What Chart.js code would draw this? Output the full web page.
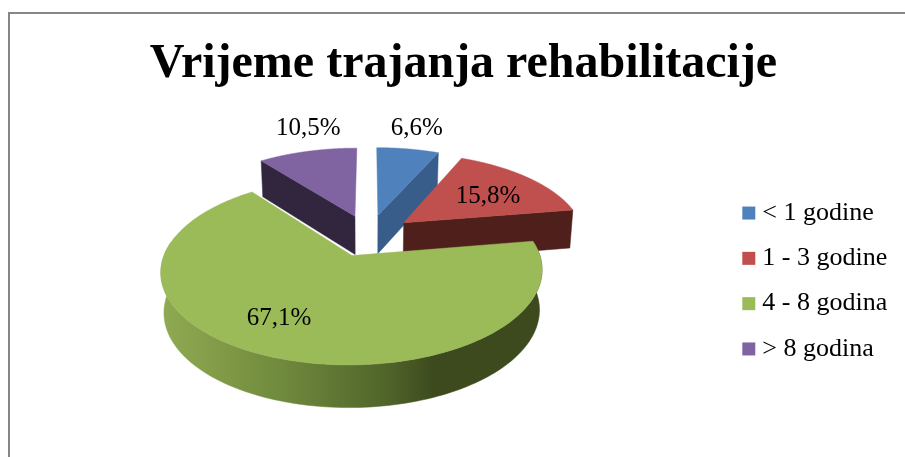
<html>
<head>
<style>
  body { margin:0; overflow:hidden; background:#fff; }
  #frame { position:absolute; left:8px; top:12px; width:1200px; height:800px; border:2px solid #868686; }
  #myChart { position:absolute; left:0; top:0; }
</style>
</head>
<body>
<div id="frame"></div>
<canvas id="myChart" width="905" height="457"></canvas>

<script src="https://cdn.jsdelivr.net/npm/chart.js"></script>

<script>
  const title = 'Vrijeme trajanja rehabilitacije';
  const labels = ['< 1 godine', '1 - 3 godine', '4 - 8 godina', '> 8 godina'];
  const values = [6.6, 15.8, 67.1, 10.5];

  const topColors = ['#4f81bd', '#c0504d', '#9bbb59', '#8064a2'];
  const wallColors = ['#385d8a', '#4f1f1c', '#3c4a1e', '#32263f'];
  const labelNudge = [[17, -39], [-5, 6], [-17, -4], [-12, -41]];

  // fake 3D: the arcs keep their angles from the library, only the drawing is tilted
  const tilt = 0.16, squash = 84.5, shrink = 0.985;

  function project(el, u, v, low) {
    const k = 1 / (1 - tilt * v);
    const depth = low ? 39 + 3 * v : 0;
    const s = low ? shrink : 1;
    return [el.x + u * el.outerRadius * k * s, el.y + squash * v * k + depth];
  }

  function slicePoints(el, offset) {
    const mid = (el.startAngle + el.endAngle) / 2;
    const e = offset / el.outerRadius;
    const cu = Math.cos(mid) * e, cv = Math.sin(mid) * e;
    const rim = [];
    for (let i = 0; i <= 160; i++) {
      const a = el.startAngle + (el.endAngle - el.startAngle) * i / 160;
      rim.push([cu + Math.cos(a), cv + Math.sin(a), Math.sin(a)]);
    }
    return { cu, cv, rim, mid };
  }

  function fillPoly(ctx, pts, color) {
    ctx.beginPath();
    pts.forEach((p, i) => i ? ctx.lineTo(p[0], p[1]) : ctx.moveTo(p[0], p[1]));
    ctx.closePath();
    ctx.fillStyle = color;
    ctx.strokeStyle = color;
    ctx.lineWidth = 0.5;
    ctx.fill();
    ctx.stroke();
  }

  function wallFill(ctx, el, i) {
    if (i !== 2) return wallColors[i];
    const g = ctx.createLinearGradient(165, 0, 540, 0);
    g.addColorStop(0, '#8fa951');
    g.addColorStop(0.3, '#718b3e');
    g.addColorStop(0.6, '#4f6329');
    g.addColorStop(0.72, '#3c4a1e');
    g.addColorStop(1, '#3c4a1e');
    return g;
  }

  // a side wall only shows when the top face lies above its edge
  function wallShows(c, p, q) {
    const dx = p[0] - c[0];
    if (Math.abs(dx) < 5) return false;
    return q[1] < c[1] + (q[0] - c[0]) / dx * (p[1] - c[1]);
  }

  const pie3d = {
    id: 'pie3d',
    afterLayout(chart) {
      const lg = chart.legend;
      lg.left = 729;
      lg.right = 905;
      lg.top += 95;
      lg.bottom += 95;
      chart.chartArea.right = 2 * 369 - chart.chartArea.left;
    },
    beforeDatasetDraw(chart, args) {
      const ctx = chart.ctx;
      const arcs = args.meta.data;
      const order = arcs.map((el, i) => i).sort((a, b) =>
        Math.sin((arcs[a].startAngle + arcs[a].endAngle) / 2) - Math.sin((arcs[b].startAngle + arcs[b].endAngle) / 2));

      order.forEach(i => {
        const el = arcs[i];
        const s = slicePoints(el, el.options.offset);
        const top = s.rim.map(p => project(el, p[0], p[1], false));
        const front = s.rim.filter(p => p[2] > -0.15);
        const cTop = project(el, s.cu, s.cv, false);
        const cLow = project(el, s.cu, s.cv, true);
        const last = top.length - 1;
        const q = top[Math.floor(last / 2)];
        const color = wallColors[i];
        const lowAt = n => project(el, s.rim[n][0], s.rim[n][1], true);
        if (wallShows(cTop, top[0], q)) fillPoly(ctx, [cTop, top[0], lowAt(0), cLow], color);
        if (wallShows(cTop, top[last], q)) fillPoly(ctx, [cTop, top[last], lowAt(last), cLow], color);
        if (front.length > 1) {
          const upper = front.map(p => project(el, p[0], p[1], false));
          const lower = front.map(p => project(el, p[0], p[1], true));
          fillPoly(ctx, upper.concat(lower.reverse()), wallFill(ctx, el, i));
        }
        fillPoly(ctx, [cTop].concat(top), el.options.backgroundColor);
      });

      ctx.save();
      ctx.fillStyle = '#000';
      ctx.font = '25px "Liberation Serif"';
      ctx.textAlign = 'center';
      ctx.textBaseline = 'middle';
      arcs.forEach((el, i) => {
        const s = slicePoints(el, el.options.offset);
        const p = project(el, s.cu + Math.cos(s.mid) * 0.7, s.cv + Math.sin(s.mid) * 0.7, false);
        const text = String(values[i]).replace('.', ',') + '%';
        ctx.fillText(text, p[0] + labelNudge[i][0], p[1] + labelNudge[i][1]);
      });
      ctx.restore();
      return false;
    }
  };

  const myChart = new Chart(document.getElementById('myChart'), {
    type: 'pie',
    data: {
      labels: labels,
      datasets: [{
        data: values,
        backgroundColor: topColors,
        borderWidth: 0,
        offset: 45
      }]
    },
    plugins: [pie3d],
    options: {
      responsive: false,
      animation: false,
      radius: 181,
      layout: { padding: { left: 22, right: 0, top: 0, bottom: 85 } },
      plugins: {
        tooltip: { enabled: false },
        title: {
          display: true,
          text: title,
          color: '#000',
          font: { family: '"Liberation Serif"', size: 48, weight: 'bold' },
          padding: { top: 36, bottom: 5 }
        },
        legend: {
          position: 'right',
          labels: {
            color: '#000',
            font: { family: '"Liberation Serif"', size: 26 },
            usePointStyle: true,
            pointStyle: 'rect',
            boxWidth: 1,
            boxHeight: 13,
            padding: 19.3
          }
        }
      }
    }
  });
</script>
</body>
</html>
